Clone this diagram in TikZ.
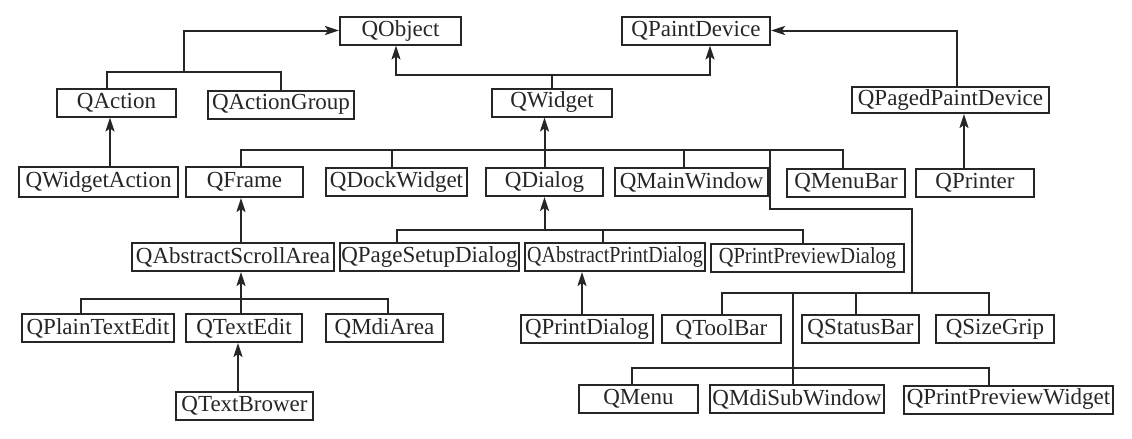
\documentclass[tikz,border=0pt]{standalone}
\usepackage{fontspec}
\usepackage{graphicx}
\setmainfont{Liberation Serif}
\usetikzlibrary{arrows.meta}
\tikzstyle{classBox}=[shape = rectangle, draw, line width = 1pt, minimum height = 14pt, inner sep = 0pt, font = \fontsize{11.5}{13}\selectfont]
\tikzstyle{inherit}=[line width = 1pt, -{Stealth[length = 7pt, width = 4.5pt, inset = 1.5pt]}]
\tikzstyle{link}=[line width = 1pt]

\begin{document}
\begin{tikzpicture}[x = 0.5pt, y = -0.5pt, color = black!85]
\useasboundingbox (0,0) rectangle (1132,439);
% base classes
\node[classBox, minimum width = 60.5pt] (QObject) at (400.5,30.5) {QObject};
\node[classBox, minimum width = 74pt] (QPaintDevice) at (696,30.5) {QPaintDevice};
\node[classBox, minimum width = 59.5pt] (QAction) at (116.5,102.5) {QAction};
\node[classBox, minimum width = 73pt] (QActionGroup) at (281,104.5) {QActionGroup};
\node[classBox, minimum width = 60pt] (QWidget) at (552,102.5) {QWidget};
\node[classBox, minimum width = 98.5pt, minimum height = 13pt] (QPagedPaintDevice) at (950.5,100) {QPagedPaintDevice};
% second row
\node[classBox, minimum width = 79.5pt, minimum height = 15pt] (QWidgetAction) at (98.5,182) {QWidgetAction};
\node[classBox, minimum width = 58.5pt, minimum height = 15pt] (QFrame) at (244.5,182) {QFrame};
\node[classBox, minimum width = 70.5pt] (QDockWidget) at (396.5,182) {QDockWidget};
\node[classBox, minimum width = 58.5pt] (QDialog) at (544.5,182) {QDialog};
\node[classBox, minimum width = 76.5pt] (QMainWindow) at (691.5,182) {QMainWindow};
\node[classBox, minimum width = 59pt] (QMenuBar) at (846,182.5) {QMenuBar};
\node[classBox, minimum width = 59pt] (QPrinter) at (975,182.5) {QPrinter};
% third row
\node[classBox, minimum width = 101pt] (QAbstractScrollArea) at (233,257) {QAbstractScrollArea};
\node[classBox, minimum width = 89.5pt] (QPageSetupDialog) at (429.5,257) {QPageSetupDialog};
\node[classBox, minimum width = 90pt] (QAbstractPrintDialog) at (615,257) {\scalebox{0.87}[1]{QAbstractPrintDialog}};
\node[classBox, minimum width = 96.5pt] (QPrintPreviewDialog) at (807.5,258) {\scalebox{0.89}[1]{QPrintPreviewDialog}};
% fourth row
\node[classBox, minimum width = 76pt] (QPlainTextEdit) at (98,328) {QPlainTextEdit};
\node[classBox, minimum width = 58pt] (QTextEdit) at (244,328) {QTextEdit};
\node[classBox, minimum width = 58.5pt] (QMdiArea) at (384.5,328) {QMdiArea};
\node[classBox, minimum width = 66pt] (QPrintDialog) at (587,329) {QPrintDialog};
\node[classBox, minimum width = 59.5pt] (QToolBar) at (721.5,329) {QToolBar};
\node[classBox, minimum width = 58.5pt] (QStatusBar) at (860.5,329) {QStatusBar};
\node[classBox, minimum width = 59pt] (QSizeGrip) at (995,329) {QSizeGrip};
% last row
\node[classBox, minimum width = 68.5pt] (QTextBrower) at (244.5,405.5) {QTextBrower};
\node[classBox, minimum width = 59.5pt] (QMenu) at (638.5,399) {QMenu};
\node[classBox, minimum width = 87pt] (QMdiSubWindow) at (797,399) {QMdiSubWindow};
\node[classBox, minimum width = 104.5pt] (QPrintPreviewWidget) at (1008.5,399.5) {QPrintPreviewWidget};
% joints
\coordinate (jAction) at (184,72);
\coordinate (jWidget) at (552,75);
\coordinate (jBar) at (770,150);
\coordinate (jTurn) at (912,209);
\coordinate (jTool) at (912,293);
\coordinate (jMenu) at (793,368);
\coordinate (jDialog) at (545,230);
\coordinate (jScroll) at (241,299);
% QObject and QPaintDevice
\draw[inherit] (jAction) |- (QObject.west);
\draw[link] ([xshift=-4.75pt]QAction.north) |- (jAction) -| (QActionGroup.north);
\draw[inherit] (QWidget.north) |- (jWidget) -| ([xshift=-2.25pt]QObject.south);
\draw[inherit] (jWidget) -| ([xshift=7pt]QPaintDevice.south);
\draw[inherit] ([xshift=3.25pt]QPagedPaintDevice.north) |- (QPaintDevice.east);
\draw[inherit] ([xshift=-5.5pt]QPrinter.north) -- ([xshift=-5.5pt]QPrinter.north |- QPagedPaintDevice.south);
\draw[inherit] ([xshift=5.75pt]QWidgetAction.north) -- ([xshift=5.75pt]QWidgetAction.north |- QAction.south);
% QWidget
\draw[inherit] (QDialog.north) -- (QDialog.north |- QWidget.south);
\draw[link] ([xshift=-2pt]QFrame.north) |- ([xshift=-1.5pt]QMenuBar.north |- jBar) -- ([xshift=-1.5pt]QMenuBar.north);
\draw[link] ([xshift=-2.25pt]QDockWidget.north) -- ([xshift=-2.25pt]QDockWidget.north |- jBar);
\draw[link] ([xshift=-3.75pt]QMainWindow.north) -- ([xshift=-3.75pt]QMainWindow.north |- jBar);
\draw[link] (jBar) |- (jTurn) -- (jTool);
\draw[link] (QToolBar.north) |- ([xshift=-3pt]QSizeGrip.north |- jTool) -- ([xshift=-3pt]QSizeGrip.north);
\draw[link] ([xshift=-2.25pt]QStatusBar.north) -- ([xshift=-2.25pt]QStatusBar.north |- jTool);
\draw[link] ([xshift=-2pt]QMdiSubWindow.north) -- ([xshift=-2pt]QMdiSubWindow.north |- jTool);
\draw[link] ([xshift=-3.25pt]QMenu.north) |- ([xshift=-9.75pt]QPrintPreviewWidget.north |- jMenu) -- ([xshift=-9.75pt]QPrintPreviewWidget.north);
% QDialog
\draw[inherit] (QDialog.south |- jDialog) -- (QDialog.south);
\draw[link] ([xshift=-16.25pt]QPageSetupDialog.north) |- ([xshift=-2.25pt]QPrintPreviewDialog.north |- jDialog) -- ([xshift=-2.25pt]QPrintPreviewDialog.north);
\draw[link] ([xshift=-6pt]QAbstractPrintDialog.north) -- ([xshift=-6pt]QAbstractPrintDialog.north |- jDialog);
\draw[inherit] ([xshift=-2.5pt]QPrintDialog.north) -- ([xshift=-2.5pt]QPrintDialog.north |- QAbstractPrintDialog.south);
% QFrame
\draw[inherit] ([xshift=-1.75pt]QAbstractScrollArea.north -| QFrame.south) -- ([xshift=-1.75pt]QFrame.south);
\draw[inherit] ([xshift=-1.5pt]QTextEdit.north) -- ([xshift=-1.5pt]QTextEdit.north |- QAbstractScrollArea.south);
\draw[link] ([xshift=-8.5pt]QPlainTextEdit.north) |- ([xshift=1.75pt]QMdiArea.north |- jScroll) -- ([xshift=1.75pt]QMdiArea.north);
\draw[inherit] ([xshift=-3.25pt]QTextBrower.north) -- ([xshift=-3.25pt]QTextBrower.north |- QTextEdit.south);
\end{tikzpicture}
\end{document}
